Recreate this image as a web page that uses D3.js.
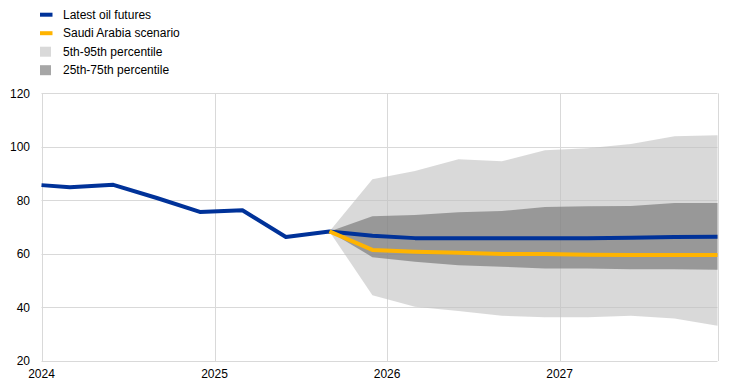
<!DOCTYPE html>
<html>
<head>
<meta charset="utf-8">
<script src="https://cdn.jsdelivr.net/npm/d3@7"></script>
<style>
  html, body { margin: 0; padding: 0; background: #fff; }
  svg { display: block; font-family: "Liberation Sans", Arial, sans-serif; }
</style>
</head>
<body>
<svg id="chart" width="744" height="389"></svg>
<script>
// ---- data ----
const histDates = ["2024-01", "2024-03", "2024-06", "2024-09", "2024-12", "2025-03", "2025-06", "2025-09"];
const histValues = [85.7, 84.9, 85.8, 80.9, 75.7, 76.3, 66.3, 68.4];

const fcDates = ["2025-09", "2025-12", "2026-03", "2026-06", "2026-09", "2026-12", "2027-03", "2027-06", "2027-09", "2027-12"];
const futures = [68.4, 66.8, 65.9, 65.9, 65.9, 65.9, 65.9, 66.0, 66.3, 66.4];
const saudi   = [68.4, 61.5, 60.8, 60.4, 60.0, 60.0, 59.7, 59.6, 59.6, 59.6];
const p5      = [68.4, 44.6, 40.3, 38.7, 36.9, 36.3, 36.3, 36.9, 35.9, 33.2];
const p95     = [68.4, 87.9, 91.0, 95.4, 94.6, 98.7, 99.5, 101.1, 104.0, 104.3];
const p25     = [68.4, 58.8, 57.1, 55.8, 55.2, 54.6, 54.6, 54.3, 54.3, 54.1];
const p75     = [68.4, 74.1, 74.5, 75.6, 76.0, 77.5, 77.8, 77.9, 79.0, 79.0];

const yTicks = [20, 40, 60, 80, 100, 120];
const xTickLabels = ["2024", "2025", "2026", "2027"];
const legendLabels = ["Latest oil futures", "Saudi Arabia scenario", "5th-95th percentile", "25th-75th percentile"];

// ---- setup ----
const parse = d3.timeParse("%Y-%m");
const svg = d3.select("#chart");
const M = { left: 41.5, right: 717.5, top: 93.3, bottom: 361 };

const x = d3.scaleTime()
  .domain([parse("2024-01"), parse("2027-12")])
  .range([M.left, M.right]);
const y = d3.scaleLinear().domain([20, 120]).range([M.bottom, M.top]);

const COL_BLUE = "#003299", COL_YEL = "#ffb400";
const LIGHT = { fill: "#c0c0c0", op: 0.6 };
const DARK = { fill: "#727272", op: 0.63 };

// gridlines
const g = svg.append("g");
g.selectAll("line.h").data(yTicks).join("line")
  .attr("x1", M.left).attr("x2", M.right)
  .attr("y1", d => Math.round(y(d)) + 0.5).attr("y2", d => Math.round(y(d)) + 0.5)
  .attr("stroke", "#d9d9d9").attr("stroke-width", 1);
const yearDates = xTickLabels.map(s => parse(s + "-01"));
g.selectAll("line.v").data(yearDates.concat([parse("2027-12")])).join("line")
  .attr("x1", d => Math.round(x(d)) + 0.5).attr("x2", d => Math.round(x(d)) + 0.5)
  .attr("y1", M.top).attr("y2", M.bottom)
  .attr("stroke", "#d9d9d9").attr("stroke-width", 1);

// bands
const fc = fcDates.map((d, i) => ({ d: parse(d), f: futures[i], s: saudi[i], p5: p5[i], p95: p95[i], p25: p25[i], p75: p75[i] }));
svg.append("path").datum(fc)
  .attr("d", d3.area().x(d => x(d.d)).y0(d => y(d.p5)).y1(d => y(d.p95)))
  .attr("fill", LIGHT.fill).attr("fill-opacity", LIGHT.op);
svg.append("path").datum(fc)
  .attr("d", d3.area().x(d => x(d.d)).y0(d => y(d.p25)).y1(d => y(d.p75)))
  .attr("fill", DARK.fill).attr("fill-opacity", DARK.op);

// lines
const hist = histDates.map((d, i) => ({ d: parse(d), v: histValues[i] }));
const blue = hist.concat(fc.slice(1).map(p => ({ d: p.d, v: p.f })));
const line = d3.line().x(d => x(d.d)).y(d => y(d.v));
svg.append("path").datum(blue).attr("d", line)
  .attr("fill", "none").attr("stroke", COL_BLUE).attr("stroke-width", 4).attr("stroke-linejoin", "round");
svg.append("path").datum(fc.map(p => ({ d: p.d, v: p.s }))).attr("d", line)
  .attr("fill", "none").attr("stroke", COL_YEL).attr("stroke-width", 4).attr("stroke-linejoin", "round");

// y labels
svg.append("g").selectAll("text").data(yTicks).join("text")
  .attr("x", 30).attr("y", d => y(d)).attr("dy", "0.35em")
  .attr("text-anchor", "end").attr("font-size", 12).attr("fill", "#000")
  .text(d => d);

// x labels
svg.append("g").selectAll("text").data(yearDates).join("text")
  .attr("x", d => x(d)).attr("y", 378)
  .attr("text-anchor", "middle").attr("font-size", 12).attr("fill", "#000")
  .text((d, i) => xTickLabels[i]);

// legend
const rows = [14.7, 33.2, 51.7, 70.2];
const lg = svg.append("g");
lg.append("line").attr("x1", 40).attr("x2", 52.5).attr("y1", rows[0]).attr("y2", rows[0])
  .attr("stroke", COL_BLUE).attr("stroke-width", 4);
lg.append("line").attr("x1", 40).attr("x2", 52.5).attr("y1", rows[1]).attr("y2", rows[1])
  .attr("stroke", COL_YEL).attr("stroke-width", 4);
lg.append("rect").attr("x", 40).attr("y", rows[2] - 5).attr("width", 11).attr("height", 10)
  .attr("fill", LIGHT.fill).attr("fill-opacity", LIGHT.op);
lg.append("rect").attr("x", 40).attr("y", rows[3] - 5).attr("width", 11).attr("height", 10)
  .attr("fill", DARK.fill).attr("fill-opacity", DARK.op);
lg.selectAll("text").data(legendLabels).join("text")
  .attr("x", 63).attr("y", (d, i) => rows[i]).attr("dy", "0.35em")
  .attr("font-size", 12).attr("fill", "#000")
  .text(d => d);
</script>
</body>
</html>
